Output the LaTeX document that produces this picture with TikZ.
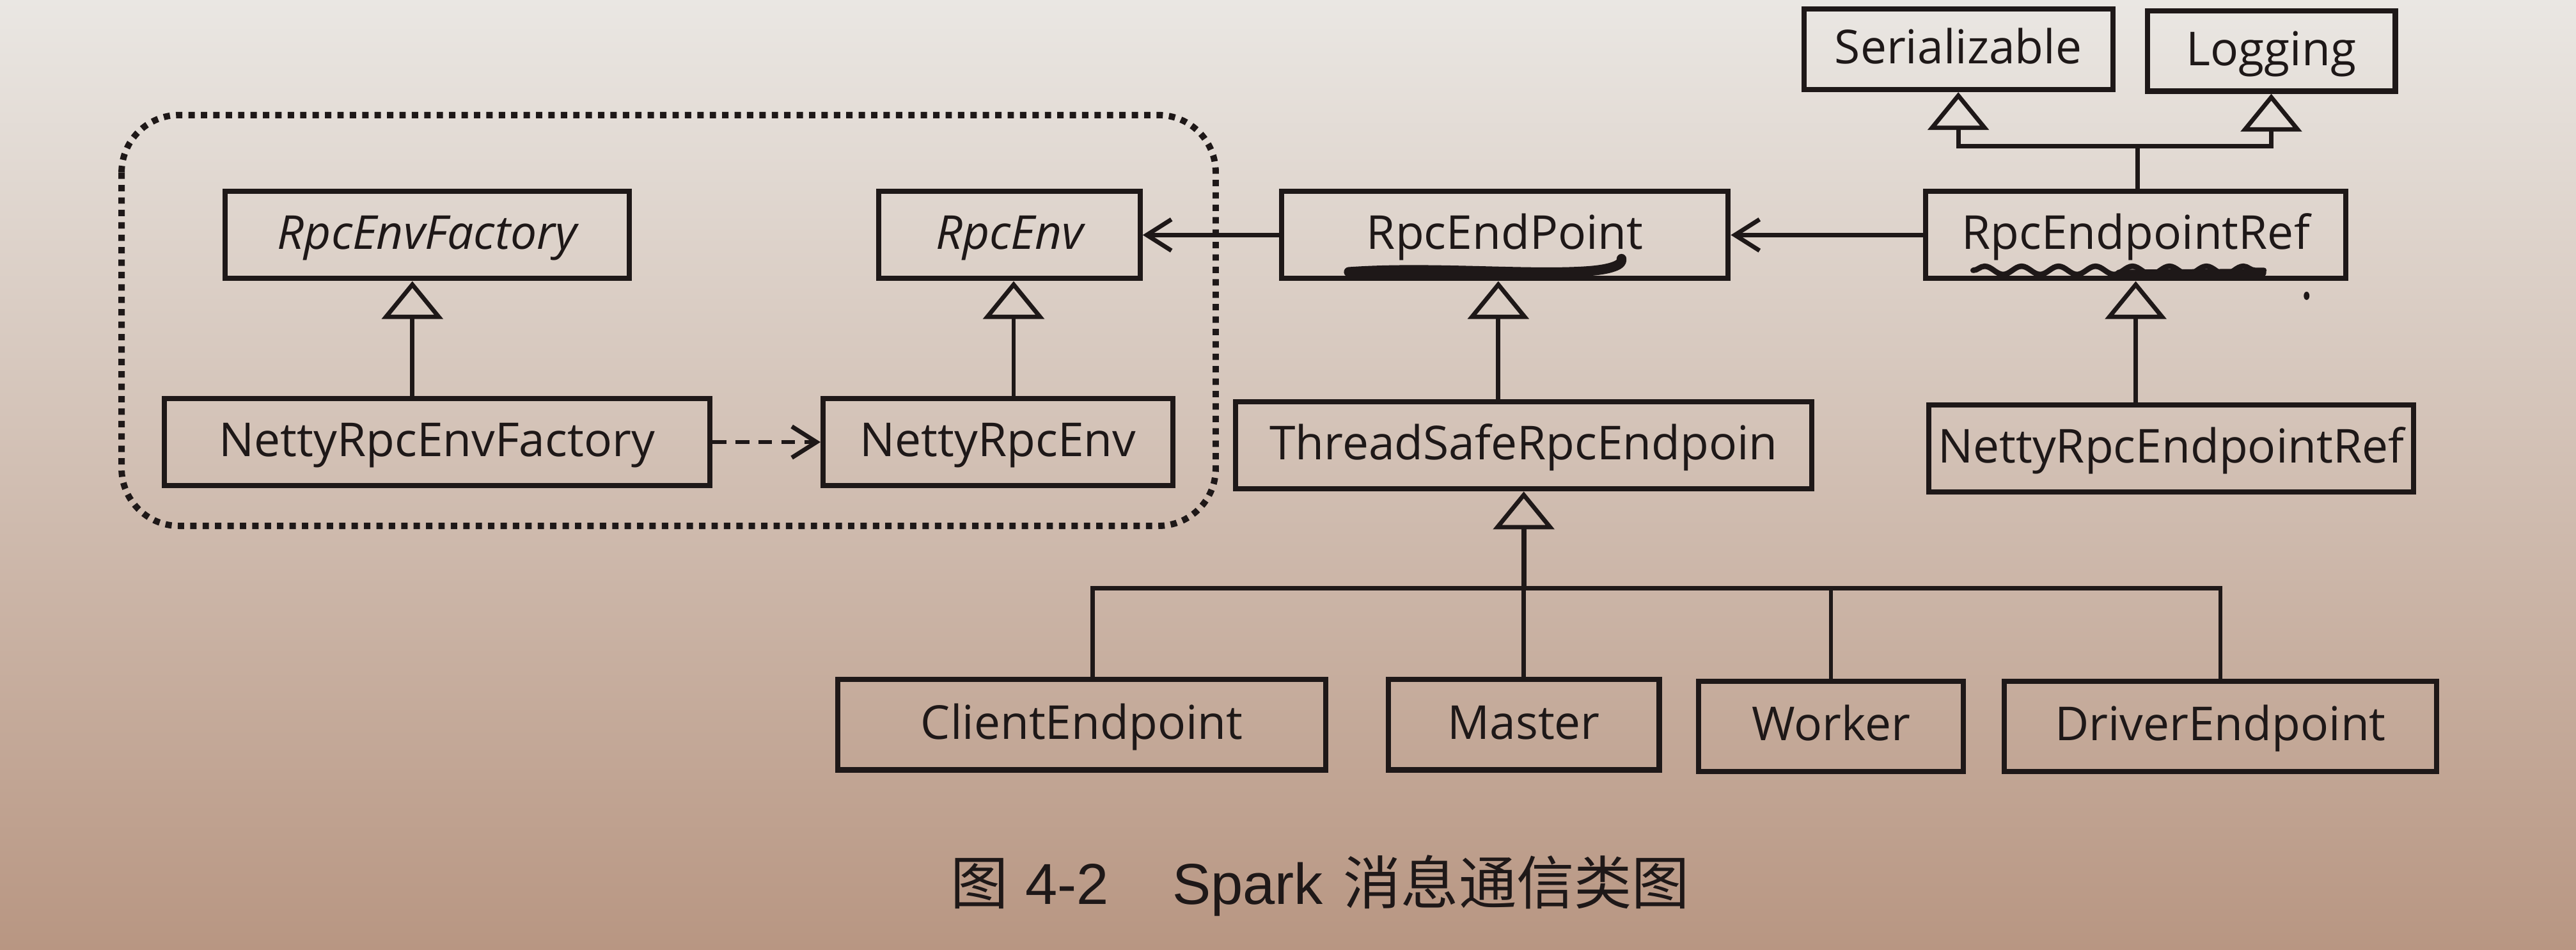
\documentclass[tikz,border=0pt]{standalone}
\usepackage{fontspec}
\setmainfont{Open Sans}
\newfontfamily\cjk{Noto Sans CJK SC}
\newfontfamily\capfont{Liberation Sans}
\usetikzlibrary{arrows.meta,decorations.pathmorphing}
\definecolor{ink}{RGB}{30,24,24}
\definecolor{paperTop}{RGB}{234,231,227}
\definecolor{paperMid}{RGB}{216,199,186}
\definecolor{paperBot}{RGB}{184,150,130}
\begin{document}
\begin{tikzpicture}[x=0.02cm,y=-0.02cm,
  box/.style={draw=ink, line width=1.8pt, inner sep=0pt, text=ink,
    font=\fontsize{16.2}{19}\selectfont, text height=0.41cm, text depth=0.06cm,
    minimum height=1.06cm},
  conn/.style={draw=ink, line width=1.5pt},
  inh/.style={conn, -{Triangle[open, length=0.46cm, width=0.74cm, line width=1.5pt]}},
  assoc/.style={conn, -{Straight Barb[length=0.3cm, width=0.38cm, line width=1.5pt]}},
  dep/.style={assoc, dash pattern=on 0.17cm off 0.11cm},
  dotbox/.style={draw=ink, line width=2.2pt, dash pattern=on 2.2pt off 2.1pt, rounded corners=0.7cm},
  scribble/.style={draw=ink, line cap=round, line join=round}
]
% background / bounding box
\shade[top color=paperTop, middle color=paperMid, bottom color=paperBot] (0,0) rectangle (1568,578);
\useasboundingbox (0,0) rectangle (1568,578);

% dotted group
\draw[dotbox] (74,70) rectangle (740,320);

% boxes
\node[box, minimum width=4.92cm] (ref)  at (260,143)   {\itshape RpcEnvFactory};
\node[box, minimum width=6.64cm] (nref) at (266,269)   {NettyRpcEnvFactory};
\node[box, minimum width=3.18cm] (env)  at (614.5,143) {\itshape RpcEnv};
\node[box, minimum width=4.26cm] (nenv) at (607.5,269) {NettyRpcEnv};
\node[box, minimum width=5.44cm] (ep)   at (916,143)   {RpcEndPoint};
\node[box, minimum width=7.02cm] (ts)   at (927.5,271) {ThreadSafeRpcEndpoin};
\node[box, minimum width=3.76cm, minimum height=0.98cm] (ser) at (1192,30) {Serializable};
\node[box, minimum width=3.02cm, minimum height=0.98cm] (log) at (1382.5,31) {Logging};
\node[box, minimum width=5.12cm] (epr)  at (1300,143)  {RpcEndpointRef};
\node[box, minimum width=5.90cm] (nepr) at (1321.5,273) {NettyRpcEndpointRef};
\node[box, minimum width=5.94cm, minimum height=1.10cm] (ce) at (658.5,441) {ClientEndpoint};
\node[box, minimum width=3.30cm, minimum height=1.10cm] (ma) at (927.5,441) {Master};
\node[box, minimum width=3.22cm, minimum height=1.10cm] (wo) at (1114.5,442) {Worker};
\node[box, minimum width=5.26cm, minimum height=1.10cm] (de) at (1351.5,442) {DriverEndpoint};

% helper coordinates
\coordinate (c1) at (251,0);
\coordinate (c2) at (617,0);
\coordinate (c3) at (912,0);
\coordinate (jn) at (1301,89);
\coordinate (bus) at (665,358);

% inheritance
\draw[inh] (nref.north -| c1) -- (ref.south -| c1);
\draw[inh] (nenv.north -| c2) -- (env.south -| c2);
\draw[inh] (ts.north -| c3) -- (ep.south -| c3);
\draw[inh] (nepr.north -| epr.south) -- (epr.south);
\draw[conn] (epr.north -| jn) -- (jn);
\draw[inh] (jn) -| (ser.south);
\draw[inh] (jn) -| (log.south);
\draw[conn] (ce.north -| bus) -- (bus) -- (bus -| de.north) -- (de.north);
\draw[conn] (ma.north) -- (ma.north |- bus);
\draw[conn] (wo.north) -- (wo.north |- bus);
\draw[inh, line width=1.8pt] (ts.south |- bus) -- (ts.south);

% associations
\draw[assoc] (ep.west) -- (env.east);
\draw[assoc] (epr.west) -- (ep.east);
\draw[dep] (nref.east) -- (nenv.west);

% pen marks
\draw[scribble, line width=3.4pt] (821,165.5) .. controls (870,162) and (930,167.5) .. (966,165) .. controls (981,164) and (988,161) .. (987,157.5);
\draw[scribble, line width=2.2pt] (835,167) .. controls (880,165) and (920,168) .. (955,166.5);
\draw[scribble, line width=1.9pt, decorate, decoration={snake, amplitude=0.05cm, segment length=0.45cm}] (1201,164.5) -- (1378,164.5);
\draw[scribble, line width=2.8pt] (1290,166.5) -- (1377,166);
\fill[ink] (1404,180) ellipse (0.035cm and 0.05cm);

% caption
\node[text=ink, font=\fontsize{20}{24}\selectfont, inner sep=0pt] (caption) at (803.5,539)
  {{\cjk 图}\hspace{0.3em}{\capfont 4-2}\hspace{1.1em}{\capfont Spark}\hspace{0.35em}{\cjk 消息通信类图}};
\end{tikzpicture}
\end{document}
